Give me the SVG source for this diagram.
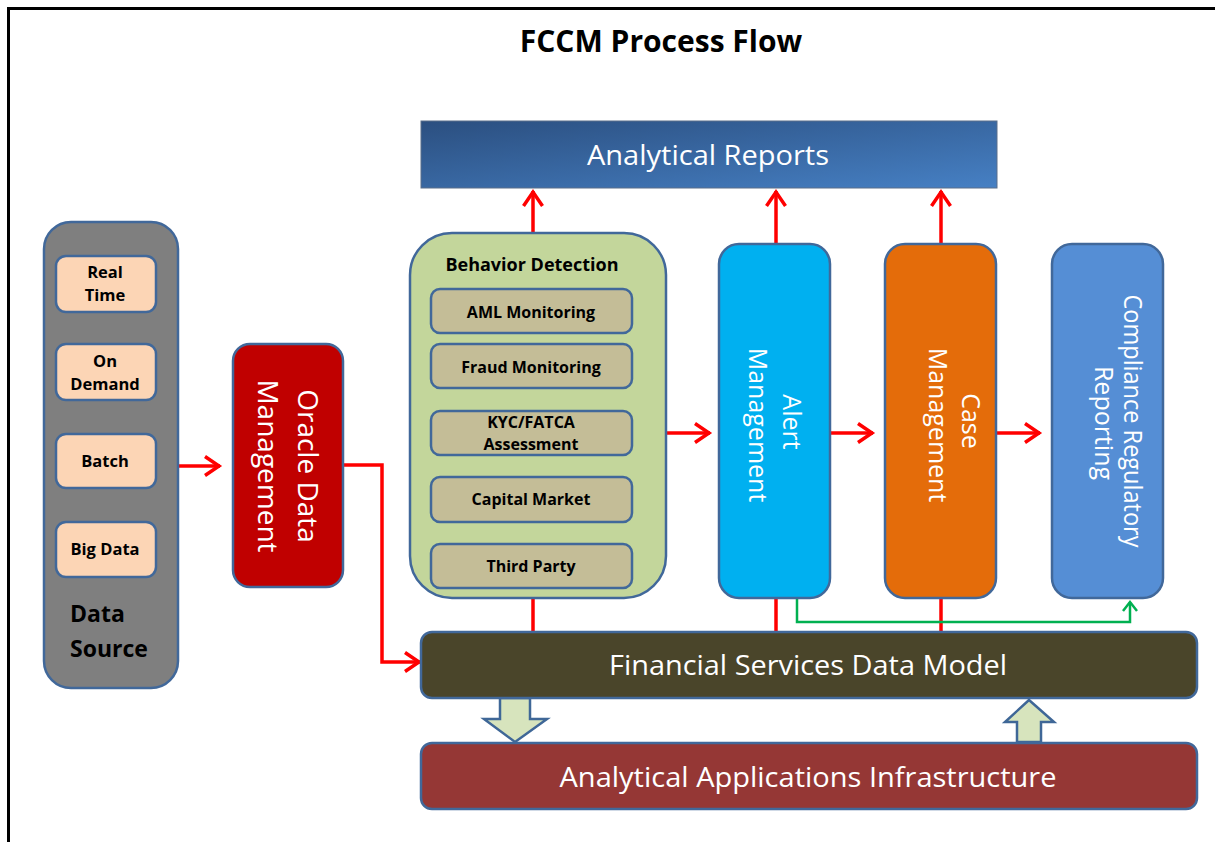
<svg xmlns="http://www.w3.org/2000/svg" width="1215" height="842" viewBox="0 0 1215 842">
<style>
.b{stroke:#41689a;stroke-width:2.5}
.sb{stroke:#41689a;stroke-width:2.5}
.t{font-family:"Open Sans","Liberation Sans",sans-serif;}
.bold{font-weight:bold;fill:#000}
.w{fill:#fff;font-size:28px;text-anchor:middle}
.sm{font-size:16px;text-anchor:middle}
.ds{font-size:16.5px;text-anchor:middle}
.red{fill:none;stroke:#ff0000;stroke-width:3.5}
.grn{fill:none;stroke:#00b050;stroke-width:2.5}
.blk{fill:#d7e4bd;stroke:#3f6797;stroke-width:2.5;stroke-linejoin:miter}
</style>
<defs>
<marker id="ra" markerUnits="userSpaceOnUse" markerWidth="24" markerHeight="24" refX="20" refY="12" orient="auto" viewBox="0 0 24 24">
<path d="M5,2.5 L19,12 L5,21.5" fill="none" stroke="#ff0000" stroke-width="3.5"/>
</marker>
<marker id="ga" markerUnits="userSpaceOnUse" markerWidth="16" markerHeight="16" refX="13" refY="8" orient="auto" viewBox="0 0 16 16">
<path d="M4,1 L13,8 L4,15" fill="none" stroke="#00b050" stroke-width="2.5"/>
</marker>
<linearGradient id="arg" x1="0" y1="0" x2="1" y2="1">
<stop offset="0" stop-color="#2b4f80"/>
<stop offset="1" stop-color="#4680c4"/>
</linearGradient>
</defs>
<rect width="1215" height="842" fill="#fff"/>
<path d="M8.5,842 V8.5 H1215" fill="none" stroke="#000" stroke-width="3"/>
<text class="t bold" x="661" y="52" font-size="30" text-anchor="middle">FCCM Process Flow</text>

<g id="connectors">
<line class="red" x1="178" y1="466" x2="220" y2="466" marker-end="url(#ra)"/>
<polyline class="red" points="343,465 382,465 382,662 420,662" marker-end="url(#ra)"/>
<line class="red" x1="666" y1="433" x2="710" y2="433" marker-end="url(#ra)"/>
<line class="red" x1="830" y1="433" x2="873" y2="433" marker-end="url(#ra)"/>
<line class="red" x1="997" y1="433" x2="1040" y2="433" marker-end="url(#ra)"/>
<line class="red" x1="533" y1="233" x2="533" y2="191" marker-end="url(#ra)"/>
<line class="red" x1="776" y1="243" x2="776" y2="191" marker-end="url(#ra)"/>
<line class="red" x1="941" y1="243" x2="941" y2="191" marker-end="url(#ra)"/>
<line class="red" x1="533" y1="598" x2="533" y2="632"/>
<line class="red" x1="776" y1="598" x2="776" y2="632"/>
<line class="red" x1="941" y1="598" x2="941" y2="632"/>
<polyline class="grn" points="797,598 797,622 1130,622 1130,602" marker-end="url(#ga)"/>
<polygon class="blk" points="500,698 530,698 530,719 547,719 515,742 484,719 500,719"/>
<polygon class="blk" points="1017,742 1041,742 1041,722 1054,722 1029,700 1005,722 1017,722"/>
</g>

<g id="analytical-reports">
<rect x="421" y="121" width="576" height="67" fill="url(#arg)" stroke="#5a6f8a" stroke-width="1"/>
<text class="t w" x="708" y="165" textLength="242" lengthAdjust="spacingAndGlyphs">Analytical Reports</text>
</g>

<g id="data-source">
<rect class="b" x="44" y="222" width="134" height="466" rx="27" fill="#7f7f7f"/>
<g id="real-time">
<rect class="sb" x="56" y="256" width="100" height="56" rx="10" fill="#fcd5b5"/>
<text class="t bold ds" x="105" y="278">Real</text>
<text class="t bold ds" x="105" y="301">Time</text>
</g>
<g id="on-demand">
<rect class="sb" x="56" y="344" width="100" height="56" rx="10" fill="#fcd5b5"/>
<text class="t bold ds" x="105" y="367">On</text>
<text class="t bold ds" x="105" y="390">Demand</text>
</g>
<g id="batch">
<rect class="sb" x="56" y="434" width="100" height="54" rx="10" fill="#fcd5b5"/>
<text class="t bold ds" x="105" y="467">Batch</text>
</g>
<g id="big-data">
<rect class="sb" x="56" y="522" width="100" height="55" rx="10" fill="#fcd5b5"/>
<text class="t bold ds" x="105" y="555">Big Data</text>
</g>
<text class="t bold" x="70" y="622" font-size="23">Data</text>
<text class="t bold" x="70" y="657" font-size="23">Source</text>
</g>

<g id="oracle-data-management">
<rect class="b" x="233" y="344" width="110" height="243" rx="17" fill="#c00000"/>
<text class="t w" transform="translate(298,466) rotate(90)">Oracle Data</text>
<text class="t w" transform="translate(258,466) rotate(90)">Management</text>
</g>

<g id="behavior-detection">
<rect class="b" x="410" y="233" width="256" height="365" rx="42" fill="#c3d69b"/>
<text class="t bold" x="532" y="271" font-size="18" text-anchor="middle">Behavior Detection</text>
<g id="aml"><rect class="sb" x="431" y="289" width="201" height="44" rx="9" fill="#c4bd97"/>
<text class="t bold sm" x="531" y="318">AML Monitoring</text></g>
<g id="fraud"><rect class="sb" x="431" y="344" width="201" height="44" rx="9" fill="#c4bd97"/>
<text class="t bold sm" x="531" y="373">Fraud Monitoring</text></g>
<g id="kyc"><rect class="sb" x="431" y="411" width="201" height="44" rx="9" fill="#c4bd97"/>
<text class="t bold sm" x="531" y="428">KYC/FATCA</text>
<text class="t bold sm" x="531" y="450">Assessment</text></g>
<g id="capital"><rect class="sb" x="431" y="477" width="201" height="45" rx="9" fill="#c4bd97"/>
<text class="t bold sm" x="531" y="505">Capital Market</text></g>
<g id="third"><rect class="sb" x="431" y="544" width="201" height="44" rx="9" fill="#c4bd97"/>
<text class="t bold sm" x="531" y="572">Third Party</text></g>
</g>

<g id="alert-management">
<rect class="b" x="719" y="244" width="111" height="354" rx="20" fill="#00b0f0"/>
<text class="t w" style="font-size:25px" transform="translate(783,422) rotate(90)">Alert</text>
<text class="t w" style="font-size:25px" transform="translate(749,425) rotate(90)">Management</text>
</g>

<g id="case-management">
<rect class="b" x="885" y="244" width="111" height="354" rx="20" fill="#e46c0a"/>
<text class="t w" style="font-size:25px" transform="translate(962,421) rotate(90)">Case</text>
<text class="t w" style="font-size:25px" transform="translate(929,425) rotate(90)">Management</text>
</g>

<g id="compliance-regulatory-reporting">
<rect class="b" x="1052" y="244" width="111" height="354" rx="20" fill="#558ed5"/>
<text class="t w" style="font-size:25px" transform="translate(1124,421) rotate(90)" textLength="253" lengthAdjust="spacingAndGlyphs">Compliance Regulatory</text>
<text class="t w" style="font-size:25px" transform="translate(1095,423) rotate(90)">Reporting</text>
</g>

<g id="fsdm">
<rect class="b" x="421" y="632" width="776" height="66" rx="11" fill="#4a452a"/>
<text class="t w" x="808" y="675" textLength="398" lengthAdjust="spacingAndGlyphs">Financial Services Data Model</text>
</g>

<g id="aai">
<rect class="b" x="421" y="743" width="776" height="66" rx="11" fill="#953735"/>
<text class="t w" x="808" y="787" textLength="497" lengthAdjust="spacingAndGlyphs">Analytical Applications Infrastructure</text>
</g>
</svg>
